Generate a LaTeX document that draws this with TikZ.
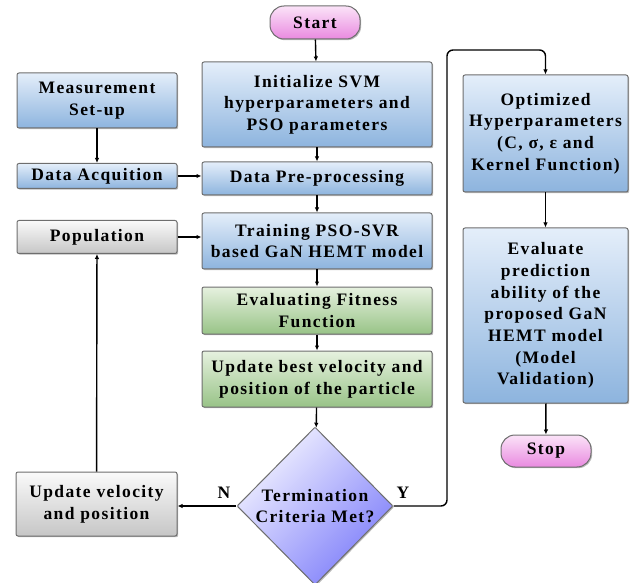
\documentclass[tikz,border=0pt]{standalone}
\usepackage{fontspec}
\setmainfont{Liberation Serif}[LetterSpace=8]
\usetikzlibrary{shapes.geometric,shadows,arrows.meta}
\definecolor{bluetop}{HTML}{E4EEFA}
\definecolor{bluebot}{HTML}{8DB4DE}
\definecolor{greentop}{HTML}{E6F1DF}
\definecolor{greenbot}{HTML}{98C387}
\definecolor{graytop}{HTML}{FAFAFA}
\definecolor{graybot}{HTML}{C6C6C6}
\definecolor{pinktop}{HTML}{FBE3F8}
\definecolor{pinkbot}{HTML}{E98AE0}
\definecolor{lavtop}{HTML}{F2F2FF}
\definecolor{lavbot}{HTML}{7F7FFA}
\definecolor{edge}{HTML}{6E6E6E}
\tikzset{
  x=1pt, y=-1pt,
  base/.style={draw=edge, line width=1pt, rounded corners=2pt, align=center,
    font=\fontsize{17.5}{21.7}\selectfont\bfseries, inner sep=1pt,
    drop shadow={shadow xshift=1.2pt, shadow yshift=-1.2pt, fill=black!45, opacity=0.6}},
  bluebox/.style={base, top color=bluetop, bottom color=bluebot},
  greenbox/.style={base, top color=greentop, bottom color=greenbot},
  graybox/.style={base, top color=graytop, bottom color=graybot},
  pill/.style={base, rounded corners=14pt, top color=pinktop, bottom color=pinkbot},
  dec/.style={base, diamond, rounded corners=1pt, aspect=1, inner sep=0pt,
    top color=lavtop, bottom color=lavbot, shading angle=45},
  conn/.style={line width=1.4pt, -{Latex[length=5pt,width=4.5pt]}},
  lbl/.style={font=\fontsize{17.5}{18}\selectfont\bfseries}
}
\begin{document}
\begin{tikzpicture}
\useasboundingbox (0,0) rectangle (638,583);
\node[pill, minimum width=90pt, minimum height=33pt] (start) at (315,22.5) {Start};
\node[bluebox, minimum width=230pt, minimum height=85pt] (init) at (317,104.5) {Initialize SVM\\hyperparameters and\\PSO parameters};
\node[bluebox, minimum width=160pt, minimum height=55pt] (meas) at (97,100.5) {Measurement\\Set-up};
\node[bluebox, minimum width=160pt, minimum height=25pt] (acq) at (97,176) {Data Acquition};
\node[bluebox, minimum width=230pt, minimum height=33pt] (pre) at (317,178.5) {Data Pre-processing};
\node[graybox, minimum width=160pt, minimum height=33pt] (pop) at (97,237) {Population};
\node[bluebox, minimum width=230pt, minimum height=56pt] (train) at (317,241) {Training PSO-SVR\\based GaN HEMT model};
\node[greenbox, minimum width=230pt, minimum height=47pt] (fit) at (317,310.5) {Evaluating Fitness\\Function};
\node[greenbox, minimum width=230pt, minimum height=56pt] (best) at (317,379) {Update best velocity and\\position of the particle};
\node[dec, minimum width=156pt, minimum height=158pt] (term) at (315,506) {Termination\\Criteria Met?};
\node[graybox, minimum width=161pt, minimum height=64pt] (upd) at (96.5,504) {Update velocity\\and position};
\node[bluebox, minimum width=165pt, minimum height=117pt] (opt) at (545.5,133.5) {Optimized\\Hyperparameters\\(C, σ, ε and\\Kernel Function)};
\node[bluebox, minimum width=165pt, minimum height=175pt] (eval) at (545.5,315.5) {Evaluate\\prediction\\ability of the\\proposed GaN\\HEMT model\\(Model\\Validation)};
\node[pill, minimum width=90pt, minimum height=32pt] (stop) at (546,451) {Stop};
\node[lbl] (nl) at (224,493) {N};
\node[lbl] (yl) at (403,493) {Y};
\coordinate (c1) at (447,506);
\coordinate (c2) at (447,50);
\coordinate (c3) at (545.5,50);
\draw[conn] (start) -- (init);
\draw[conn] (init) -- (pre);
\draw[conn] (pre) -- (train);
\draw[conn] (train) -- (fit);
\draw[conn] (fit) -- (best);
\draw[conn] (best) -- (term);
\draw[conn] (meas) -- (acq);
\draw[conn] (acq) -- (pre.west |- acq);
\draw[conn] (pop) -- (train.west |- pop);
\draw[conn] (term) -- (upd.east |- term);
\draw[conn] (upd) -- (pop);
\draw[conn, rounded corners=6pt] (term.east) -- (c1) -- (c2) -- (c3) -- (opt.north);
\draw[conn] (opt) -- (eval);
\draw[conn] (eval) -- (stop);
\end{tikzpicture}
\end{document}
